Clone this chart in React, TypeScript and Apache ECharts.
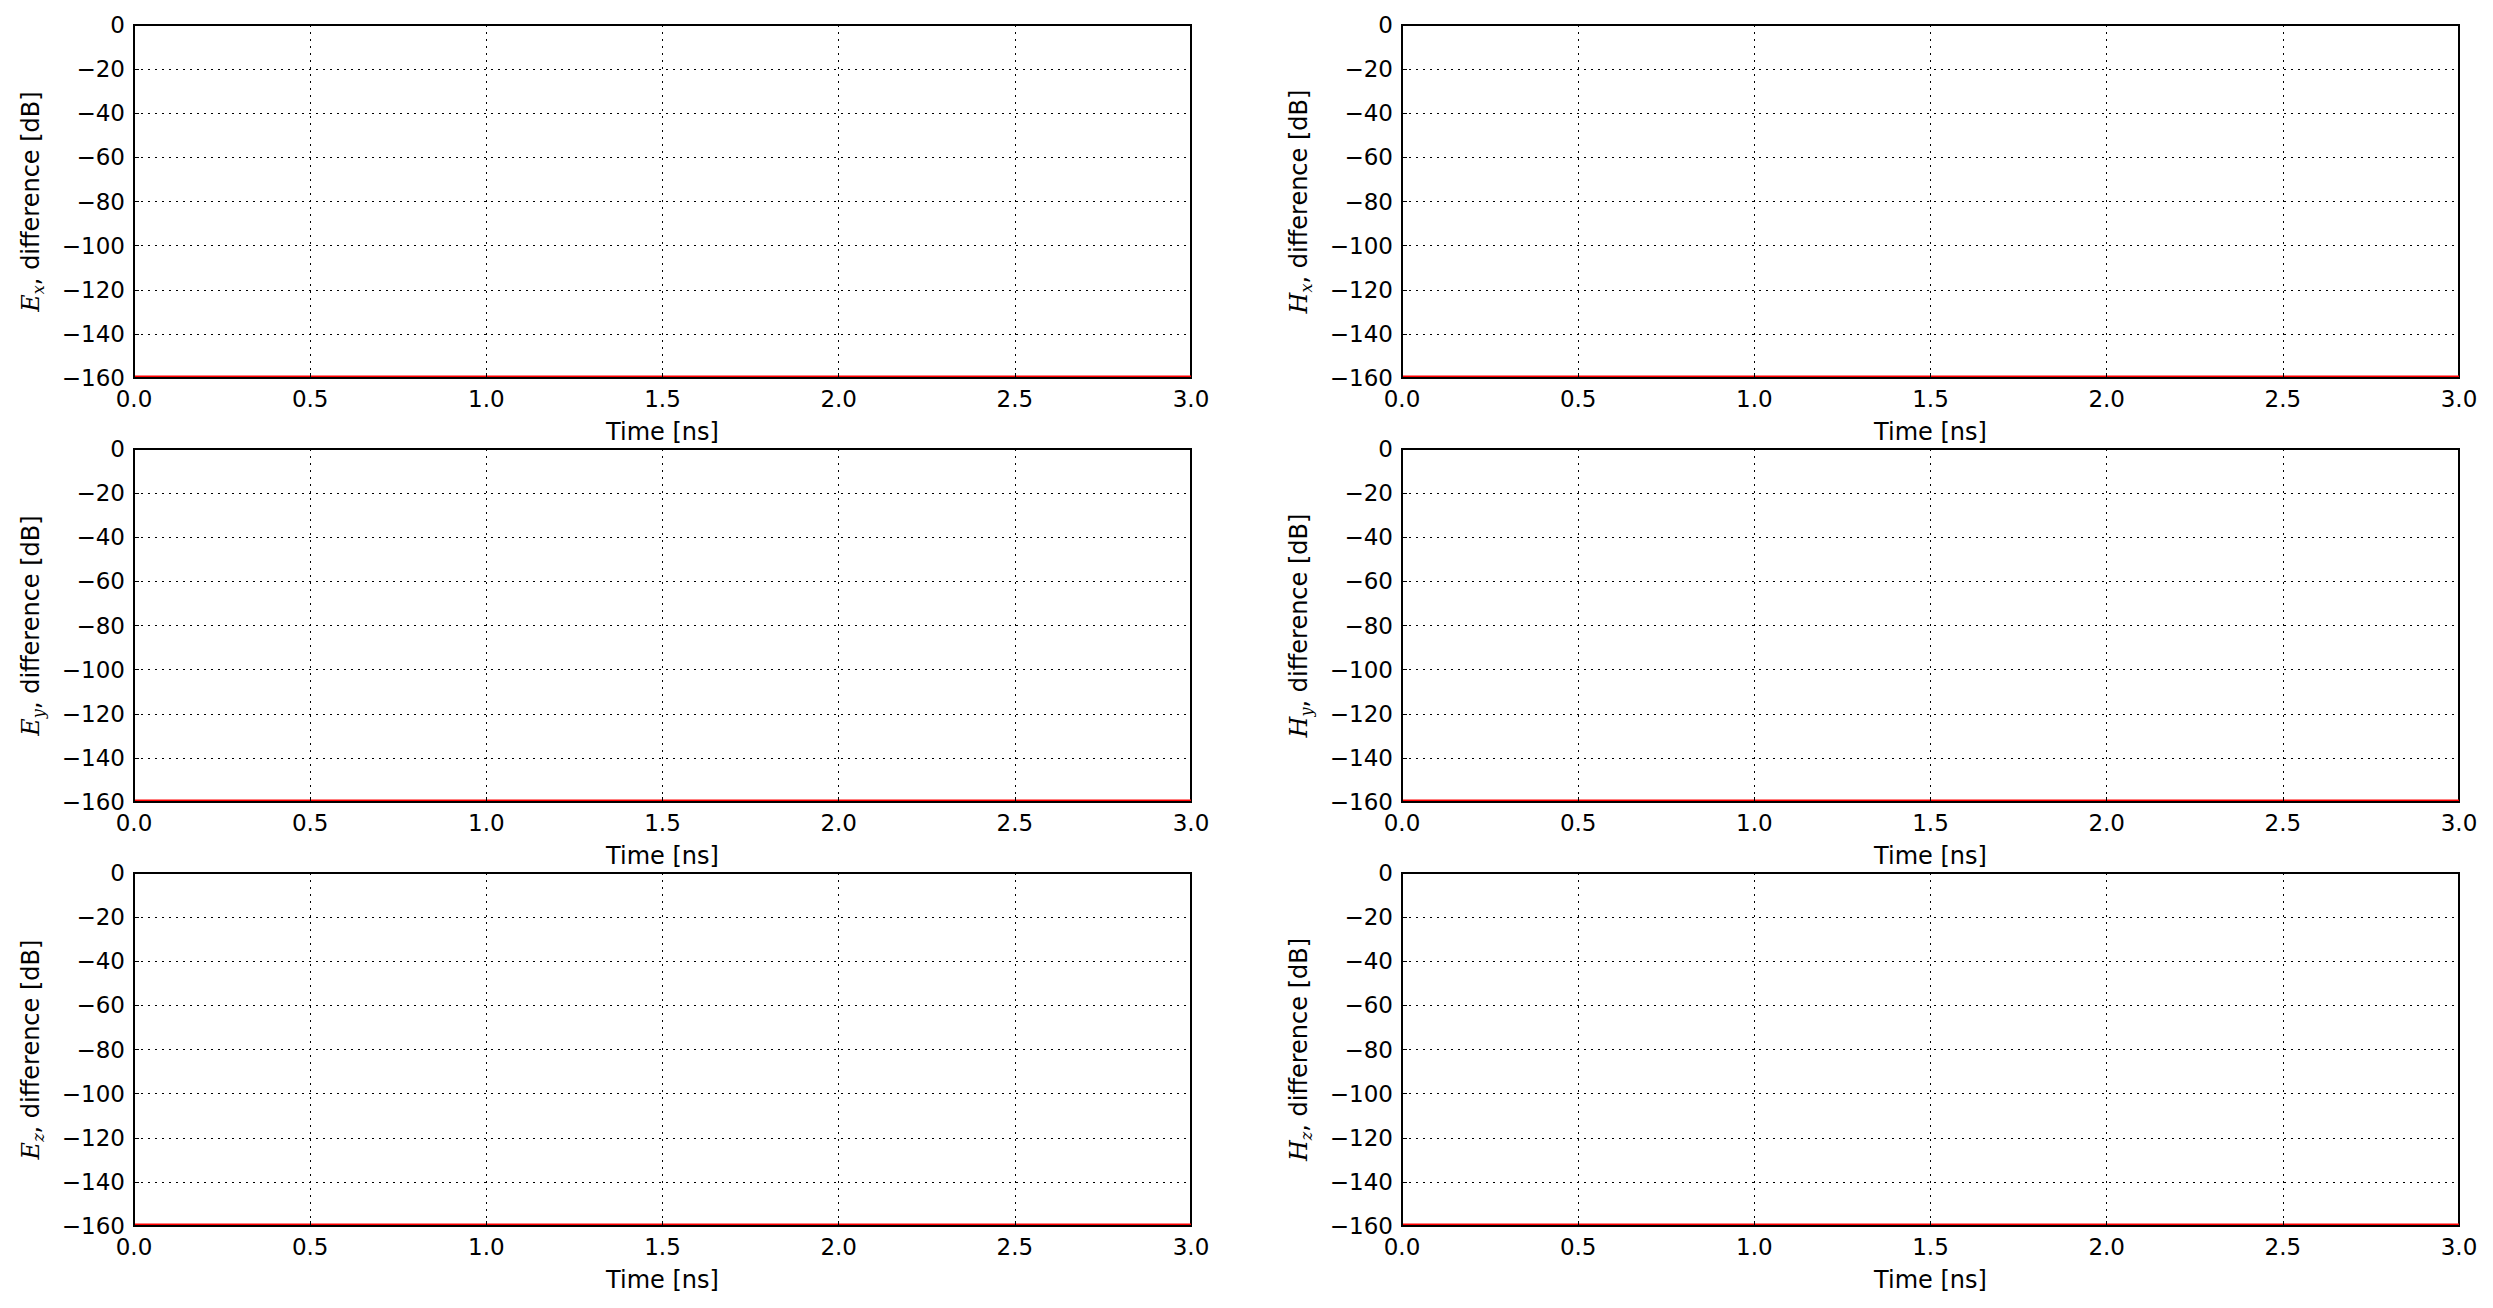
import React, { useEffect, useRef } from "react";
import * as echarts from "echarts";

// Data (the difference sits right at the -160 dB floor)
const timeNs = [0, 0.5, 1.0, 1.5, 2.0, 2.5, 3.0];
const exDiff = [-159.4, -159.4, -159.4, -159.4, -159.4, -159.4, -159.4];
const hxDiff = [-159.4, -159.4, -159.4, -159.4, -159.4, -159.4, -159.4];
const eyDiff = [-159.4, -159.4, -159.4, -159.4, -159.4, -159.4, -159.4];
const hyDiff = [-159.4, -159.4, -159.4, -159.4, -159.4, -159.4, -159.4];
const ezDiff = [-159.4, -159.4, -159.4, -159.4, -159.4, -159.4, -159.4];
const hzDiff = [-159.4, -159.4, -159.4, -159.4, -159.4, -159.4, -159.4];

const panelFields = ["E", "H", "E", "H", "E", "H"];
const panelComps = ["x", "x", "y", "y", "z", "z"];
const panelSeries = [exDiff, hxDiff, eyDiff, hyDiff, ezDiff, hzDiff];
const yTicks = [0, -20, -40, -60, -80, -100, -120, -140, -160];
const xTicks = [0.0, 0.5, 1.0, 1.5, 2.0, 2.5, 3.0];
const xLabel = "Time [ns]";
const yLabelSuffix = ", difference [dB]";

const FONT = "DejaVu Sans";
const FS = 23;
const NFS = 24;

export default function App() {
  const ref = useRef<HTMLDivElement>(null);
  useEffect(() => {
    if (!ref.current) return;
    const chart = echarts.init(ref.current, null, { renderer: "svg" });
    const lefts = [134, 1402];
    const tops = [25, 449, 873];
    const W = 1057;
    const H = 353;
    const grids: any[] = [];
    const xAxes: any[] = [];
    const yAxes: any[] = [];
    const series: any[] = [];
    for (let i = 0; i < 6; i++) {
      const col = i % 2;
      const row = Math.floor(i / 2);
      grids.push({
        left: lefts[col],
        top: tops[row],
        width: W,
        height: H,
        show: true,
        borderColor: "#000",
        borderWidth: 2,
        backgroundColor: "#fff",
      });
      xAxes.push({
        type: "value",
        gridIndex: i,
        min: xTicks[0],
        max: xTicks[xTicks.length - 1],
        interval: 0.5,
        name: xLabel,
        nameLocation: "middle",
        nameGap: 42,
        nameTextStyle: { fontFamily: FONT, fontSize: NFS, color: "#000" },
        axisLine: { show: true, onZero: false, lineStyle: { color: "#000", width: 2 } },
        axisTick: { show: true, inside: true, length: 5, lineStyle: { color: "#000" } },
        axisLabel: {
          margin: 9,
          fontFamily: FONT,
          fontSize: FS,
          color: "#000",
          formatter: (v: number) => v.toFixed(1),
        },
        splitLine: { show: true, lineStyle: { color: "#000", width: 1, type: [2, 5] } },
        z: 5,
      });
      yAxes.push({
        type: "value",
        gridIndex: i,
        min: yTicks[yTicks.length - 1],
        max: yTicks[0],
        interval: 20,
        name:
          "{e|" + panelFields[i] + "}{s|" + panelComps[i] + "}{n|" + yLabelSuffix + "}",
        nameLocation: "middle",
        nameRotate: 90,
        nameGap: 88,
        nameTextStyle: {
          fontFamily: FONT,
          fontSize: NFS,
          color: "#000",
          rich: {
            e: { fontFamily: "DejaVu Serif", fontStyle: "italic", fontSize: NFS, color: "#000", lineHeight: 30, verticalAlign: "middle" },
            s: { fontFamily: "DejaVu Serif", fontStyle: "italic", fontSize: 16, color: "#000", lineHeight: 30, verticalAlign: "bottom", padding: [10, 0, 0, 0] },
            n: { fontFamily: FONT, fontSize: NFS, color: "#000", lineHeight: 30, verticalAlign: "middle" },
          },
        },
        axisLine: { show: true, lineStyle: { color: "#000", width: 2 } },
        axisTick: { show: true, inside: true, length: 5, lineStyle: { color: "#000" } },
        axisLabel: {
          margin: 9,
          fontFamily: FONT,
          fontSize: FS,
          color: "#000",
          formatter: (v: number) => (v < 0 ? "\u2212" + Math.abs(v) : String(v)),
        },
        splitLine: { show: true, lineStyle: { color: "#000", width: 1, type: [2, 5] } },
        z: 5,
      });
      series.push({
        type: "line",
        xAxisIndex: i,
        yAxisIndex: i,
        data: timeNs.map((t, k) => [t, panelSeries[i][k]]),
        showSymbol: false,
        symbol: "none",
        lineStyle: { color: "#ff0000", width: 2.5 },
        z: 3,
        clip: false,
      });
    }
    chart.setOption({
      animation: false,
      backgroundColor: "#fff",
      grid: grids,
      xAxis: xAxes,
      yAxis: yAxes,
      series,
    });
    return () => chart.dispose();
  }, []);
  return (
    <div
      ref={ref}
      style={{ position: "fixed", left: 0, top: 0, width: 2493, height: 1308 }}
    />
  );
}
